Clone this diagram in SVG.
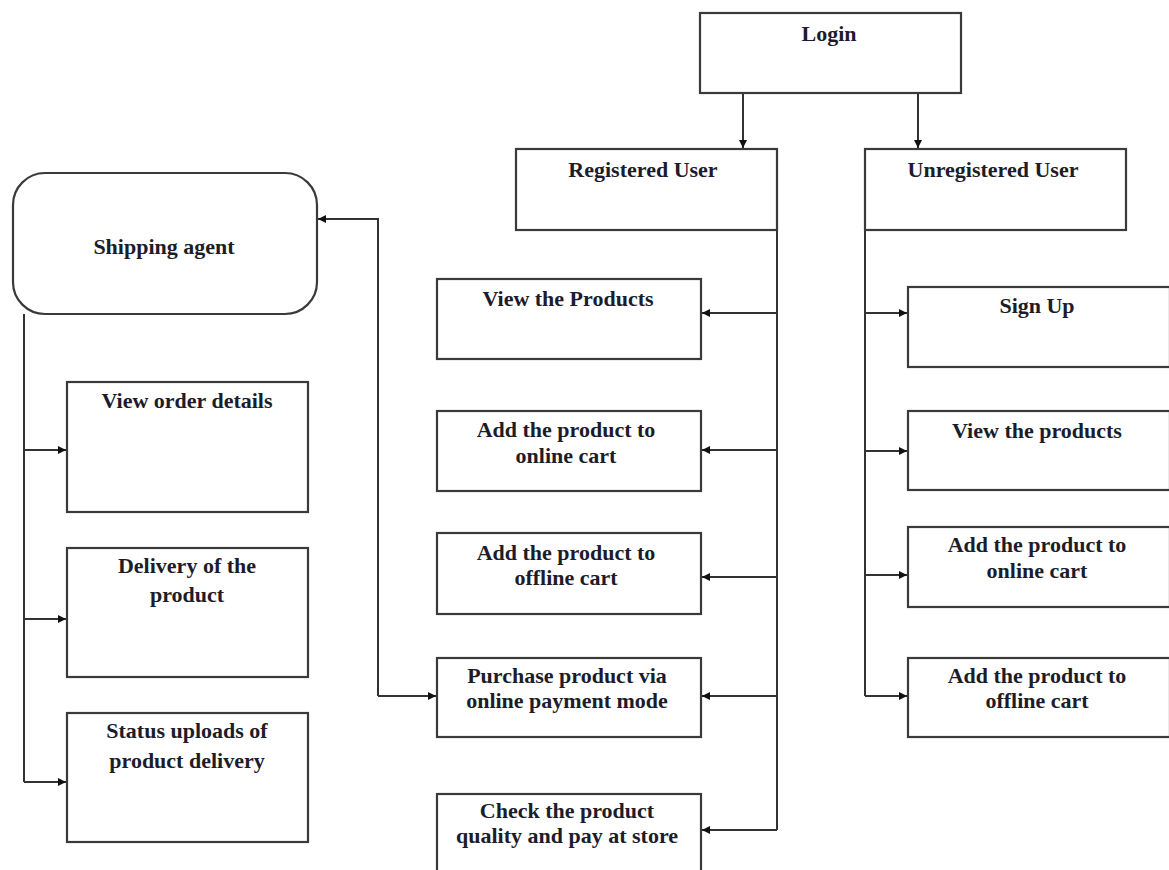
<svg xmlns="http://www.w3.org/2000/svg" width="1169" height="870" viewBox="0 0 1169 870">
<style>
.box{fill:#fff;stroke:#3a3a3a;stroke-width:2.2}
.t{font-family:"Liberation Serif","Times New Roman",serif;font-weight:bold;font-size:22px;fill:#1c1c2a;text-anchor:middle}
.c{fill:none;stroke:#333;stroke-width:2}
</style>
<defs>
<marker id="ah" viewBox="0 0 10 10" refX="10" refY="5" markerWidth="9" markerHeight="8" markerUnits="userSpaceOnUse" orient="auto">
<path d="M0,0 L10,5 L0,10 z" fill="#111"/>
</marker>
</defs>
<rect width="1169" height="870" fill="#fff"/>
<g id="connectors">
<path class="c" d="M743,93 V148" marker-end="url(#ah)"/>
<path class="c" d="M918,93 V148" marker-end="url(#ah)"/>
<path class="c" d="M777,230 V830"/>
<path class="c" d="M777,313 H702" marker-end="url(#ah)"/>
<path class="c" d="M777,450 H702" marker-end="url(#ah)"/>
<path class="c" d="M777,577 H702" marker-end="url(#ah)"/>
<path class="c" d="M777,696 H702" marker-end="url(#ah)"/>
<path class="c" d="M777,830 H702" marker-end="url(#ah)"/>
<path class="c" d="M865,230 V696"/>
<path class="c" d="M865,313 H907" marker-end="url(#ah)"/>
<path class="c" d="M865,451 H907" marker-end="url(#ah)"/>
<path class="c" d="M865,575 H907" marker-end="url(#ah)"/>
<path class="c" d="M865,696 H907" marker-end="url(#ah)"/>
<path class="c" d="M378,696 V219 H318" marker-end="url(#ah)"/>
<path class="c" d="M378,696 H436" marker-end="url(#ah)"/>
<path class="c" d="M24,314 V782"/>
<path class="c" d="M24,450 H66" marker-end="url(#ah)"/>
<path class="c" d="M24,619 H66" marker-end="url(#ah)"/>
<path class="c" d="M24,782 H66" marker-end="url(#ah)"/>
</g>
<g id="login"><rect class="box" x="700" y="13" width="261" height="80"/><text class="t" x="829" y="41">Login</text></g>
<g id="registered"><rect class="box" x="516" y="149" width="261" height="81"/><text class="t" x="643" y="177">Registered User</text></g>
<g id="unregistered"><rect class="box" x="865" y="149" width="261" height="81"/><text class="t" x="993" y="177">Unregistered User</text></g>
<g id="shipping"><rect class="box" x="13" y="173" width="304" height="141" rx="32" ry="32"/><text class="t" x="164" y="254">Shipping agent</text></g>
<g id="r-view"><rect class="box" x="437" y="279" width="264" height="80"/><text class="t" x="568" y="306">View the Products</text></g>
<g id="r-online"><rect class="box" x="437" y="411" width="264" height="80"/><text class="t" x="566" y="437">Add the product to</text><text class="t" x="566" y="463">online cart</text></g>
<g id="r-offline"><rect class="box" x="437" y="533" width="264" height="81"/><text class="t" x="566" y="560">Add the product to</text><text class="t" x="566" y="585">offline cart</text></g>
<g id="r-purchase"><rect class="box" x="437" y="658" width="264" height="79"/><text class="t" x="567" y="683">Purchase product via</text><text class="t" x="567" y="708">online payment mode</text></g>
<g id="r-check"><rect class="box" x="437" y="794" width="264" height="90"/><text class="t" x="567" y="818">Check the product</text><text class="t" x="567" y="843">quality and pay at store</text></g>
<g id="u-signup"><rect class="box" x="908" y="287" width="262" height="80"/><text class="t" x="1037" y="313">Sign Up</text></g>
<g id="u-view"><rect class="box" x="908" y="411" width="262" height="79"/><text class="t" x="1037" y="438">View the products</text></g>
<g id="u-online"><rect class="box" x="908" y="527" width="262" height="80"/><text class="t" x="1037" y="552">Add the product to</text><text class="t" x="1037" y="578">online cart</text></g>
<g id="u-offline"><rect class="box" x="908" y="658" width="262" height="79"/><text class="t" x="1037" y="683">Add the product to</text><text class="t" x="1037" y="708">offline cart</text></g>
<g id="s-order"><rect class="box" x="67" y="382" width="241" height="130"/><text class="t" x="187" y="408">View order details</text></g>
<g id="s-delivery"><rect class="box" x="67" y="548" width="241" height="129"/><text class="t" x="187" y="573">Delivery of the</text><text class="t" x="187" y="602">product</text></g>
<g id="s-status"><rect class="box" x="67" y="713" width="241" height="129"/><text class="t" x="187" y="738">Status uploads of</text><text class="t" x="187" y="768">product delivery</text></g>
</svg>
